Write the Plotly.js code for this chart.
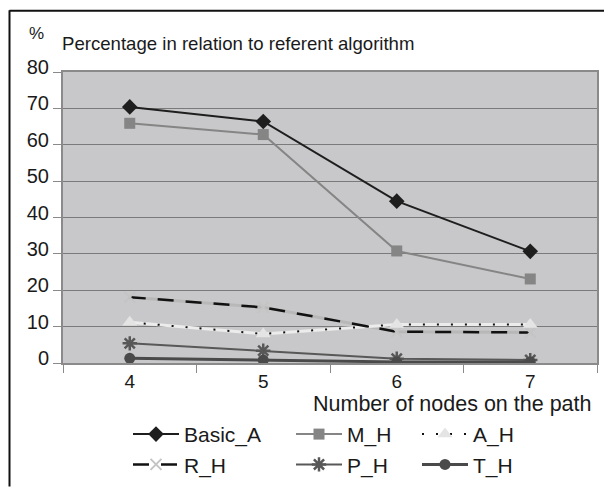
<!DOCTYPE html>
<html>
<head>
<meta charset="utf-8">
<script src="https://cdn.plot.ly/plotly-3.0.1.min.js"></script>
<style>html,body{margin:0;padding:0;background:#fff;}#chart{width:604px;height:492px;}</style>
</head>
<body>
<div id="chart"></div>
<script>
// ---- data ----
var categories = ['4', '5', '6', '7'];
var basicA = [70.4, 66.4, 44.5, 30.7];
var mH     = [65.9, 62.8, 30.8, 23.1];
var aH     = [11.2, 8.0, 10.6, 10.6];
var rH     = [18.1, 15.3, 8.6, 8.4];
var pH     = [5.4, 3.4, 1.2, 0.8];
var tH     = [1.3, 0.8, 0.3, 0.3];
var seriesNames = ['Basic_A', 'M_H', 'A_H', 'R_H', 'P_H', 'T_H'];
var titleText = 'Percentage in relation to referent algorithm';
var yUnit = '%';
var xTitleText = 'Number of nodes on the path';
var yTicks = [0, 10, 20, 30, 40, 50, 60, 70, 80];

var FONT = 'Liberation Sans, Arial, sans-serif';
var TXT = '#1a1a1a';

var traces = [
  // underlay lines (no legend)
  {x: categories, y: rH, mode: 'lines', line: {color: '#b8b8b8', width: 3}, showlegend: false, hoverinfo: 'skip'},
  {x: categories, y: aH, mode: 'lines', line: {color: '#ececec', width: 3}, showlegend: false, hoverinfo: 'skip'},
  {x: categories, y: basicA, name: seriesNames[0], mode: 'lines+markers', legend: 'legend',
   line: {color: '#1e1e1e', width: 2}, marker: {symbol: 'diamond', size: 12, color: '#1e1e1e'}},
  {x: categories, y: rH, name: seriesNames[3], mode: 'lines+markers', legend: 'legend',
   line: {color: '#111111', width: 2.5, dash: '16px,12px'}, marker: {symbol: 'x-thin', size: 11, color: '#c4c4c4', line: {color: '#c4c4c4', width: 2}}},
  {x: categories, y: mH, name: seriesNames[1], mode: 'lines+markers', legend: 'legend2',
   line: {color: '#858585', width: 2}, marker: {symbol: 'square', size: 11, color: '#858585'}},
  {x: categories, y: pH, name: seriesNames[4], mode: 'lines+markers', legend: 'legend2',
   line: {color: '#585858', width: 2}, marker: {symbol: 'asterisk', size: 12, color: '#585858', line: {color: '#585858', width: 2.5}}},
  {x: categories, y: aH, name: seriesNames[2], mode: 'lines+markers', legend: 'legend3',
   line: {color: '#111111', width: 2, dash: '2px,12px'}, marker: {symbol: 'triangle-up', size: 13, color: '#e4e4e4'}},
  {x: categories, y: tH, name: seriesNames[5], mode: 'lines+markers', legend: 'legend3',
   line: {color: '#4a4a4a', width: 3}, marker: {symbol: 'circle', size: 11, color: '#4a4a4a'}}
];

function legendAt(px) {
  return {x: (px - 63) / 534, xanchor: 'left', y: (369 - 421) / 297, yanchor: 'top',
          orientation: 'v', bgcolor: 'rgba(0,0,0,0)', borderwidth: 0, itemwidth: 46,
          font: {family: FONT, size: 21, color: TXT}, traceorder: 'normal'};
}

var layout = {
  width: 604, height: 492,
  margin: {l: 63, r: 7, t: 72, b: 123, pad: 0},
  paper_bgcolor: '#ffffff',
  plot_bgcolor: '#c8c8ca',
  font: {family: FONT, size: 18, color: TXT},
  title: {text: titleText, xref: 'container', yref: 'container', x: 62 / 604, xanchor: 'left',
          y: 1 - 43 / 492, yanchor: 'middle', font: {family: FONT, size: 18.6, color: TXT}},
  xaxis: {type: 'category', tickson: 'boundaries', ticks: 'outside', ticklen: 8, tickcolor: '#8a8a8a',
          showline: true, mirror: true, linecolor: '#8a8a8a', linewidth: 2, showgrid: false,
          tickfont: {family: FONT, size: 19, color: TXT}, range: [-0.5, 3.5], fixedrange: true},
  yaxis: {range: [0, 80], tickvals: yTicks, ticks: 'outside', ticklen: 8, tickcolor: '#8a8a8a',
          showline: true, mirror: true, linecolor: '#8a8a8a', linewidth: 2,
          showgrid: true, gridcolor: '#7a7a7a', gridwidth: 1, zeroline: false,
          tickfont: {family: FONT, size: 20, color: TXT}, ticklabelshift: -5, fixedrange: true},
  legend: legendAt(128),
  legend2: legendAt(291),
  legend3: legendAt(417),
  annotations: [
    {text: yUnit, xref: 'paper', yref: 'paper', x: (27 - 63) / 534, xanchor: 'left',
     y: (369 - 33) / 297, yanchor: 'middle', showarrow: false, font: {family: FONT, size: 17, color: TXT}},
    {text: xTitleText, xref: 'paper', yref: 'paper', x: (594 - 63) / 534, xanchor: 'right',
     y: (369 - 411) / 297, yanchor: 'middle', showarrow: false, font: {family: FONT, size: 21.5, color: TXT}}
  ],
  shapes: [
    {type: 'line', xref: 'paper', yref: 'paper', x0: (9.5 - 63) / 534, x1: (9.5 - 63) / 534,
     y0: (369 - 9) / 297, y1: (369 - 495) / 297, line: {color: '#111', width: 2}},
    {type: 'line', xref: 'paper', yref: 'paper', x0: (9.5 - 63) / 534, x1: (610 - 63) / 534,
     y0: (369 - 9.5) / 297, y1: (369 - 9.5) / 297, line: {color: '#111', width: 2}}
  ]
};

Plotly.newPlot('chart', traces, layout, {staticPlot: true, displayModeBar: false});
</script>
</body>
</html>
